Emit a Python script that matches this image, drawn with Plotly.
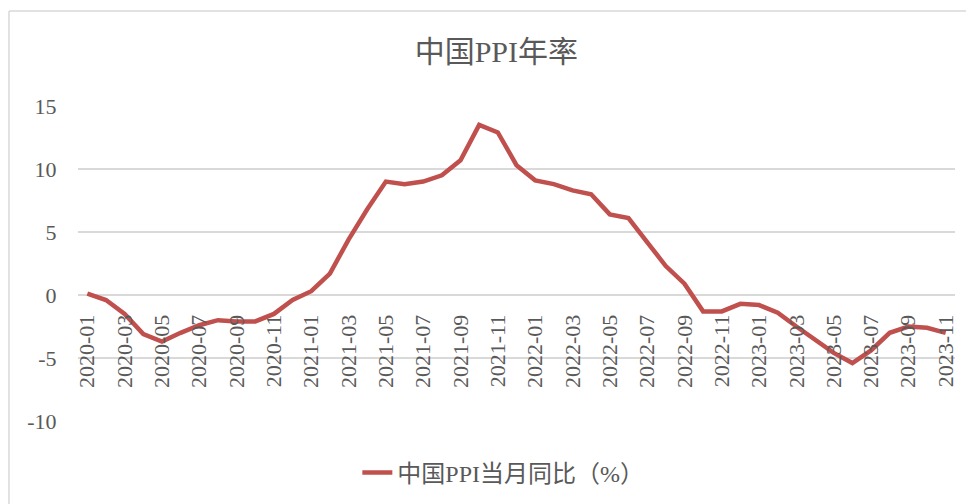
import plotly.graph_objects as go

# China PPI YoY (%), monthly 2020-01 .. 2023-11
months = [f"{y}-{m:02d}" for y in range(2020, 2024) for m in range(1, 13)][:47]
ppi_yoy = [
    0.1, -0.4, -1.5, -3.1, -3.7, -3.0, -2.4, -2.0, -2.1, -2.1, -1.5, -0.4,
    0.3, 1.7, 4.4, 6.8, 9.0, 8.8, 9.0, 9.5, 10.7, 13.5, 12.9, 10.3,
    9.1, 8.8, 8.3, 8.0, 6.4, 6.1, 4.2, 2.3, 0.9, -1.3, -1.3, -0.7,
    -0.8, -1.4, -2.5, -3.6, -4.6, -5.4, -4.4, -3.0, -2.5, -2.6, -3.0,
]
y_ticks = [-10, -5, 0, 5, 10, 15]
y_tick_text = [str(v) for v in y_ticks]
series_name = "中国PPI当月同比（%）"
chart_title = "中国PPI年率"

serif = "'Liberation Serif', 'Times New Roman', 'Noto Sans CJK SC', serif"
grey = "#595959"
grid = "#D9D9D9"

fig = go.Figure()
fig.add_trace(go.Scatter(
    x=months, y=ppi_yoy, mode="lines", name=series_name,
    line=dict(color="#C0504D", width=4.5),
))

# page body has an 8px margin, so the plot box is offset by that much
fig.update_layout(
    width=974, height=504,
    margin=dict(l=70, r=27, t=98, b=91),
    paper_bgcolor="white", plot_bgcolor="white",
    font=dict(family=serif, color=grey),
    title=dict(text=chart_title, font=dict(size=30, color=grey, family=serif),
               x=0.477, xref="paper", xanchor="center",
               y=0.913, yref="container", yanchor="middle"),
    showlegend=True,
    legend=dict(orientation="h", x=0.485, xanchor="center", y=-0.165, yanchor="middle",
                font=dict(size=24, color=grey, family=serif), bgcolor="rgba(0,0,0,0)"),
    xaxis=dict(type="category", range=[-0.5, len(months) - 0.5],
               tickvals=months[::2], tickangle=-90,
               tickfont=dict(size=22, color=grey, family=serif),
               ticks="outside", ticklen=10, tickcolor="rgba(0,0,0,0)",
               showgrid=False, showline=False, zeroline=False,
               anchor="free", position=0.4),
    yaxis=dict(range=[-10, 15], tickvals=y_ticks, ticktext=y_tick_text, domain=[0, 1],
               tickfont=dict(size=22, color=grey, family=serif),
               showgrid=True, gridcolor=grid, gridwidth=1.5,
               zeroline=False, showline=False,
               ticks="outside", ticklen=16, tickcolor="rgba(0,0,0,0)"),
    shapes=[
        dict(type="line", xref="paper", yref="paper", x0=-0.0787, x1=-0.0787, y0=1.3016, y1=-0.3,
             line=dict(color=grid, width=1.5)),
        dict(type="line", xref="paper", yref="paper", x0=-0.0787, x1=1.05, y0=1.3016, y1=1.3016,
             line=dict(color=grid, width=1.5)),
    ],
)

fig.write_html("out.html")
